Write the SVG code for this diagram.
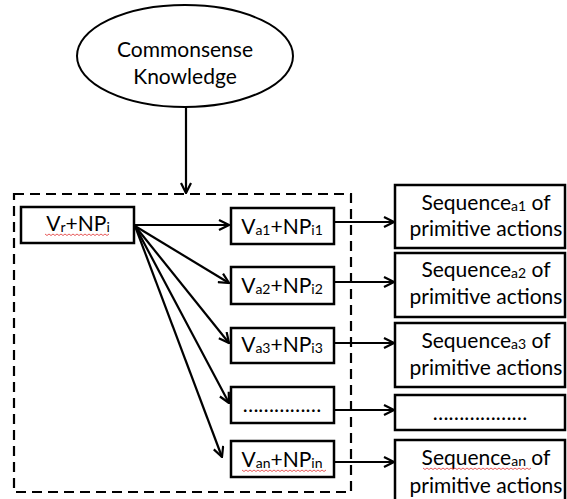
<svg xmlns="http://www.w3.org/2000/svg" width="567" height="499" viewBox="0 0 567 499">
<style>
  text { font-family: Lato, "Open Sans", "Liberation Sans", sans-serif; font-size: 21px; fill: #000; text-anchor: middle; }
  .sub { font-size: 14px; }
  .box { fill: #fff; stroke: #000; stroke-width: 2.5; }
  .conn { stroke: #000; stroke-width: 2.2; fill: none; }
  .dash { fill: none; stroke: #000; stroke-width: 2.2; stroke-dasharray: 10 6; }
  .squig { fill: none; stroke: #e03030; stroke-width: 0.8; }
</style>
<defs>
  <marker id="arr" viewBox="0 0 12 12" refX="11" refY="6" markerWidth="12" markerHeight="12" markerUnits="userSpaceOnUse" orient="auto">
    <path d="M1,1 L11,6 L1,11" fill="none" stroke="#000" stroke-width="2.2"/>
  </marker>
</defs>
<rect width="567" height="499" fill="#fff"/>

<g id="container">
  <rect class="dash" x="14" y="194" width="337" height="298"/>
</g>

<g id="commonsense">
  <ellipse cx="185" cy="56" rx="108" ry="51" fill="#fff" stroke="#000" stroke-width="2"/>
  <text x="185" y="57">Commonsense</text>
  <text x="185" y="84">Knowledge</text>
</g>

<g id="vr">
  <rect class="box" x="21" y="207" width="113" height="36"/>
  <text x="78" y="231">V<tspan class="sub" dy="1">r</tspan><tspan dy="-1">+NP</tspan><tspan class="sub" dy="1">i</tspan></text>
  <path class="squig" d="M45,234 l2,1.5 l2,-1.5 l2,1.5 l2,-1.5 l2,1.5 l2,-1.5 l2,1.5 l2,-1.5 l2,1.5 l2,-1.5 l2,1.5 l2,-1.5 l2,1.5 l2,-1.5 l2,1.5 l2,-1.5 l2,1.5 l2,-1.5 l2,1.5 l2,-1.5 l2,1.5 l2,-1.5 l2,1.5 l2,-1.5 l2,1.5 l2,-1.5 l2,1.5 l2,-1.5 l2,1.5 l2,-1.5 l2,1.5 l2,-1.5"/>
</g>

<g id="va1">
  <rect class="box" x="231" y="208" width="103" height="36"/>
  <text x="282" y="234">V<tspan class="sub" dy="1">a1</tspan><tspan dy="-1">+NP</tspan><tspan class="sub" dy="1">i1</tspan></text>
</g>
<g id="va2">
  <rect class="box" x="231" y="267" width="103" height="37"/>
  <text x="282" y="293">V<tspan class="sub" dy="1">a2</tspan><tspan dy="-1">+NP</tspan><tspan class="sub" dy="1">i2</tspan></text>
</g>
<g id="va3">
  <rect class="box" x="231" y="328" width="103" height="35"/>
  <text x="282" y="352">V<tspan class="sub" dy="1">a3</tspan><tspan dy="-1">+NP</tspan><tspan class="sub" dy="1">i3</tspan></text>
</g>
<g id="va4">
  <rect class="box" x="231" y="387" width="103" height="36"/>
  <text x="282" y="412">……………</text>
</g>
<g id="van">
  <rect class="box" x="231" y="441" width="103" height="36"/>
  <text x="282" y="467">V<tspan class="sub" dy="1">an</tspan><tspan dy="-1">+NP</tspan><tspan class="sub" dy="1">in</tspan></text>
  <path class="squig" d="M242,470 l2,1.5 l2,-1.5 l2,1.5 l2,-1.5 l2,1.5 l2,-1.5 l2,1.5 l2,-1.5 l2,1.5 l2,-1.5 l2,1.5 l2,-1.5 l2,1.5 l2,-1.5 l2,1.5 l2,-1.5 l2,1.5 l2,-1.5 l2,1.5 l2,-1.5 l2,1.5 l2,-1.5 l2,1.5 l2,-1.5 l2,1.5 l2,-1.5 l2,1.5 l2,-1.5 l2,1.5 l2,-1.5 l2,1.5 l2,-1.5 l2,1.5 l2,-1.5 l2,1.5 l2,-1.5 l2,1.5 l2,-1.5 l2,1.5 l2,-1.5 l2,1.5 l2,-1.5"/>
</g>

<g id="seq1">
  <rect class="box" x="395" y="185" width="170" height="63"/>
  <text x="486" y="210">Sequence<tspan class="sub" dy="1">a1</tspan><tspan dy="-1"> of</tspan></text>
  <text x="486" y="236">primitive actions</text>
</g>
<g id="seq2">
  <rect class="box" x="395" y="253" width="170" height="64"/>
  <text x="486" y="277">Sequence<tspan class="sub" dy="1">a2</tspan><tspan dy="-1"> of</tspan></text>
  <text x="486" y="304">primitive actions</text>
</g>
<g id="seq3">
  <rect class="box" x="395" y="323" width="170" height="64"/>
  <text x="486" y="348">Sequence<tspan class="sub" dy="1">a3</tspan><tspan dy="-1"> of</tspan></text>
  <text x="486" y="375">primitive actions</text>
</g>
<g id="seq4">
  <rect class="box" x="395" y="395" width="170" height="35"/>
  <text x="480" y="420">………………</text>
</g>
<g id="seqn">
  <rect class="box" x="395" y="440" width="170" height="64"/>
  <text x="486" y="465">Sequence<tspan class="sub" dy="1">an</tspan><tspan dy="-1"> of</tspan></text>
  <text x="486" y="493">primitive actions</text>
  <path class="squig" d="M423,468 l2,1.5 l2,-1.5 l2,1.5 l2,-1.5 l2,1.5 l2,-1.5 l2,1.5 l2,-1.5 l2,1.5 l2,-1.5 l2,1.5 l2,-1.5 l2,1.5 l2,-1.5 l2,1.5 l2,-1.5 l2,1.5 l2,-1.5 l2,1.5 l2,-1.5 l2,1.5 l2,-1.5 l2,1.5 l2,-1.5 l2,1.5 l2,-1.5 l2,1.5 l2,-1.5 l2,1.5 l2,-1.5 l2,1.5 l2,-1.5 l2,1.5 l2,-1.5 l2,1.5 l2,-1.5 l2,1.5 l2,-1.5 l2,1.5 l2,-1.5 l2,1.5 l2,-1.5 l2,1.5 l2,-1.5 l2,1.5 l2,-1.5 l2,1.5 l2,-1.5 l2,1.5 l2,-1.5 l2,1.5 l2,-1.5 l2,1.5 l2,-1.5"/>
</g>

<g id="connectors">
  <line class="conn" x1="186" y1="107" x2="186" y2="193" marker-end="url(#arr)"/>
  <line class="conn" x1="135" y1="225" x2="229" y2="225" marker-end="url(#arr)"/>
  <line class="conn" x1="135" y1="226" x2="229" y2="283" marker-end="url(#arr)"/>
  <line class="conn" x1="135" y1="226" x2="229" y2="343" marker-end="url(#arr)"/>
  <line class="conn" x1="135" y1="226" x2="229" y2="403" marker-end="url(#arr)"/>
  <line class="conn" x1="135" y1="226" x2="222" y2="457" marker-end="url(#arr)"/>
  <line class="conn" x1="335" y1="222" x2="394" y2="222" marker-end="url(#arr)"/>
  <line class="conn" x1="335" y1="282" x2="394" y2="282" marker-end="url(#arr)"/>
  <line class="conn" x1="335" y1="343" x2="394" y2="343" marker-end="url(#arr)"/>
  <line class="conn" x1="335" y1="410" x2="394" y2="410" marker-end="url(#arr)"/>
  <line class="conn" x1="335" y1="462" x2="394" y2="462" marker-end="url(#arr)"/>
</g>
</svg>
